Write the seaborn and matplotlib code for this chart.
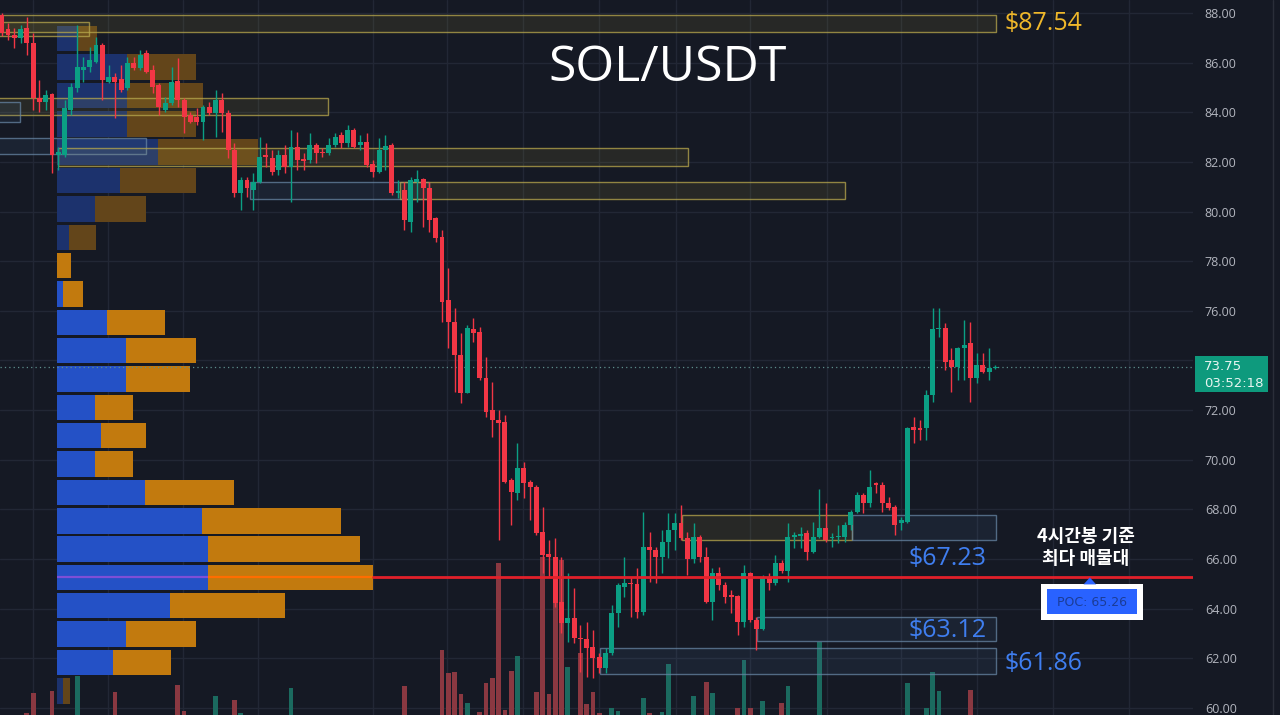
import matplotlib.pyplot as plt
import matplotlib.transforms as mtransforms
from matplotlib.patches import Rectangle, Polygon
from matplotlib.lines import Line2D
from matplotlib.ticker import FuncFormatter
import numpy as np
import pandas as pd
import seaborn as sns

################################# Données #################################

# bougies 4h SOL/USDT, de la plus ancienne a la plus recente
opens = [87.92, 87.34, 87.11, 86.98, 87.38, 86.80, 84.56, 84.43, 84.72, 82.28,
         82.28, 84.09, 84.97, 85.70, 85.84, 86.04, 86.71, 85.23, 85.43, 85.33,
         84.97, 85.97, 85.77, 86.38, 85.70, 85.10, 84.09, 84.36, 85.26, 84.49,
         83.89, 83.82, 83.62, 84.23, 83.96, 84.49, 83.96, 82.48, 80.74, 81.27,
         80.87, 81.20, 82.28, 82.15, 81.67, 82.28, 81.81, 82.61, 82.11, 82.08,
         82.68, 82.41, 82.35, 82.68, 83.09, 82.75, 83.29, 82.68, 82.82, 81.90,
         81.61, 82.48, 82.68, 80.74, 80.87, 79.59, 81.20, 81.31, 80.95, 79.74,
         78.97, 76.44, 75.55, 74.22, 72.69, 75.27, 75.15, 73.29, 72.00, 71.60,
         71.52, 69.18, 68.66, 69.67, 69.10, 68.90, 67.09, 66.20, 66.08, 64.27,
         63.42, 63.62, 62.82, 62.78, 62.46, 62.05, 61.61, 62.21, 63.82, 64.87,
         65.03, 64.99, 63.86, 66.49, 66.36, 66.08, 66.69, 67.17, 67.45, 66.85,
         66.00, 66.89, 66.08, 64.27, 65.44, 64.95, 64.55, 64.51, 63.46, 65.44,
         63.54, 63.18, 65.28, 65.04, 65.84, 65.52, 66.89, 66.93, 67.05, 66.28,
         66.89, 67.25, 66.85, 66.89, 66.89, 67.37, 67.89, 68.58, 68.26, 69.06,
         68.98, 68.26, 68.10, 67.45, 67.49, 71.32, 71.30, 71.28, 72.61, 75.27,
         75.31, 74.02, 73.74, 74.50, 74.71, 73.29, 73.82, 73.54, 73.70]
highs = [88.00, 87.59, 87.38, 87.52, 87.85, 87.18, 85.30, 84.90, 84.76, 82.61,
         84.49, 85.17, 87.52, 86.24, 86.64, 87.04, 86.78, 85.91, 85.57, 85.91,
         86.24, 86.24, 86.51, 86.51, 85.91, 85.17, 84.63, 85.84, 86.17, 84.56,
         84.02, 84.16, 84.29, 84.43, 84.90, 84.76, 84.09, 82.75, 81.40, 81.40,
         81.54, 83.02, 82.75, 82.48, 82.48, 82.68, 83.29, 83.22, 82.35, 83.15,
         82.75, 82.55, 82.95, 83.15, 83.22, 83.49, 83.36, 83.09, 83.15, 82.08,
         82.95, 83.09, 82.75, 81.27, 81.20, 81.40, 81.67, 81.35, 81.20, 79.79,
         79.26, 77.73, 76.11, 75.11, 75.43, 75.71, 75.35, 74.14, 73.13, 72.00,
         71.80, 69.26, 70.68, 69.91, 69.18, 68.98, 68.10, 66.77, 66.85, 66.08,
         65.44, 64.83, 63.34, 63.46, 63.14, 62.21, 62.42, 64.15, 65.03, 66.08,
         65.28, 65.64, 67.89, 67.09, 66.49, 67.17, 67.85, 67.85, 68.17, 67.09,
         67.45, 66.97, 66.49, 65.64, 65.68, 65.08, 64.75, 64.55, 65.76, 65.48,
         63.66, 65.36, 65.44, 66.16, 65.96, 67.45, 67.09, 67.29, 67.17, 67.49,
         68.82, 68.25, 67.05, 67.37, 67.49, 67.97, 68.70, 68.66, 69.59, 69.10,
         69.10, 68.50, 68.17, 67.69, 71.32, 71.72, 71.60, 72.81, 76.11, 76.11,
         75.51, 74.50, 74.54, 75.63, 75.55, 74.30, 74.30, 74.50, 73.80]
lows = [87.07, 86.91, 86.58, 86.78, 86.31, 84.09, 84.02, 84.09, 81.54, 81.67,
        82.21, 83.89, 84.83, 85.23, 85.64, 85.97, 84.49, 85.17, 83.76, 84.83,
        84.90, 85.70, 85.70, 85.57, 84.76, 83.89, 84.02, 84.29, 84.23, 83.15,
        83.56, 83.49, 82.88, 83.89, 83.02, 83.22, 82.15, 80.60, 80.06, 80.60,
        80.06, 81.14, 81.81, 81.47, 81.47, 81.54, 80.40, 81.67, 81.67, 81.94,
        81.94, 82.21, 82.28, 82.61, 82.55, 82.61, 82.55, 82.48, 81.81, 81.40,
        81.54, 81.67, 80.67, 80.53, 79.26, 79.19, 80.40, 79.39, 79.19, 78.79,
        75.56, 74.50, 72.73, 72.29, 72.69, 74.75, 73.21, 71.72, 70.92, 66.77,
        69.06, 67.37, 68.38, 68.46, 67.57, 66.97, 65.44, 65.28, 64.07, 63.01,
        62.66, 62.62, 61.45, 61.25, 61.21, 61.41, 61.41, 62.13, 63.26, 64.47,
        63.66, 63.62, 63.74, 65.08, 65.04, 65.44, 66.04, 66.36, 66.77, 65.36,
        65.84, 65.88, 64.23, 63.54, 64.75, 64.23, 63.82, 62.94, 63.26, 63.46,
        62.34, 63.14, 64.75, 64.95, 65.44, 65.08, 66.44, 66.44, 65.96, 66.24,
        66.85, 66.69, 66.48, 66.65, 66.69, 67.17, 67.85, 67.85, 68.10, 68.66,
        67.89, 67.97, 66.97, 67.17, 67.45, 70.68, 70.80, 70.80, 72.33, 74.95,
        73.62, 72.73, 73.21, 73.21, 72.33, 73.09, 73.50, 73.21, 73.65]
closes = [87.19, 87.11, 86.98, 87.34, 86.78, 84.56, 84.43, 84.70, 82.28, 82.41,
          84.16, 85.03, 85.84, 85.84, 86.11, 86.71, 85.30, 85.41, 85.23, 84.90,
          85.97, 85.77, 86.31, 85.64, 85.03, 84.23, 84.36, 85.23, 84.49, 83.82,
          83.62, 83.62, 84.23, 83.96, 84.49, 83.96, 82.48, 80.74, 81.27, 80.94,
          81.20, 82.21, 82.21, 81.61, 82.28, 81.81, 82.61, 82.08, 82.05, 82.68,
          82.35, 82.35, 82.68, 83.02, 82.75, 83.29, 82.61, 82.82, 81.88, 81.61,
          82.48, 82.64, 80.74, 80.84, 79.66, 81.27, 81.31, 80.95, 79.66, 78.93,
          76.36, 75.55, 74.22, 72.69, 75.31, 75.11, 73.29, 71.92, 71.60, 71.48,
          69.10, 68.70, 69.67, 69.06, 68.90, 67.05, 66.16, 66.08, 64.23, 63.42,
          63.62, 62.82, 62.78, 62.42, 62.01, 61.61, 62.21, 63.82, 64.95, 65.03,
          64.99, 63.86, 66.49, 66.36, 66.08, 66.69, 67.17, 67.45, 66.85, 66.00,
          66.89, 66.08, 64.27, 65.44, 64.95, 64.47, 64.47, 63.46, 65.44, 63.54,
          63.18, 65.24, 65.04, 65.84, 65.52, 66.89, 66.97, 67.00, 66.28, 66.89,
          67.25, 66.77, 66.89, 66.93, 67.37, 67.89, 68.58, 68.26, 68.90, 68.98,
          68.26, 68.06, 67.37, 67.57, 71.28, 71.20, 71.18, 72.61, 75.27, 75.31,
          73.94, 73.74, 74.50, 74.63, 73.29, 73.82, 73.54, 73.70, 73.75]
# volume visible au dessus du bas du graphe
volumes = [0, 0, 0, 0, 2, 22, 0, 0, 24, 0,
           0, 0, 39, 0, 0, 0, 0, 0, 23, 0,
           0, 0, 0, 0, 0, 0, 0, 0, 30, 4,
           0, 0, 0, 0, 19, 0, 0, 15, 2, 0,
           0, 0, 0, 0, 0, 0, 27, 0, 0, 0,
           0, 0, 0, 0, 0, 0, 0, 0, 0, 0,
           0, 0, 0, 0, 29, 0, 0, 0, 0, 0,
           65, 42, 43, 21, 12, 0, 3, 32, 37, 152,
           5, 44, 59, 0, 0, 23, 158, 21, 155, 155,
           48, 0, 62, 11, 23, 2, 0, 7, 4, 0,
           0, 0, 17, 2, 0, 3, 51, 0, 0, 0,
           19, 0, 33, 22, 0, 0, 0, 7, 55, 7,
           0, 14, 0, 0, 12, 29, 0, 0, 0, 0,
           73, 0, 0, 0, 0, 0, 0, 0, 0, 0,
           0, 0, 0, 0, 32, 0, 0, 7, 43, 24,
           0, 0, 0, 0, 25, 0, 0, 0, 0]

# profil de volume (volume par niveau de prix)
profile_price = [86.96, 85.82, 84.67, 83.53, 82.39, 81.25, 80.11, 78.96, 77.82, 76.68,
                 75.54, 74.40, 73.25, 72.11, 70.97, 69.83, 68.69, 67.54, 66.40, 65.26,
                 64.12, 62.98, 61.83, 60.69]
profile_buy = [20, 70, 70, 70, 101, 63, 38, 12, 0, 6, 50, 69, 69, 38, 44, 38, 88, 145, 151, 151,
               113, 69, 56, 6]
profile_sell = [20, 69, 76, 69, 100, 76, 51, 27, 14, 20, 58, 70, 64, 38, 45, 38, 89, 139, 152, 165,
                115, 70, 58, 7]
value_area = [False] * 8 + [True] * 15 + [False]
poc_price = 65.26

# zones (debut / fin en numero de bougie, haut / bas en prix)
zone_start = [-5, -5, -5, -5, -5, 9, 39.5, 63.3, 108.2, 135.2, 120.1, 95.1]
zone_end = [158.1, 13.9, 51.9, 2.9, 22.9, 109.1, 68, 134.1, 135.2, 158.1, 158.1, 158.1]
zone_top = [87.92, 87.64, 84.58, 84.41, 82.96, 82.56, 81.19, 81.19, 67.78, 67.78, 63.67, 62.42]
zone_bottom = [87.24, 87.07, 83.89, 83.61, 82.32, 81.84, 80.51, 80.51, 66.77, 66.77, 62.70, 61.37]
zone_kind = ['sell', 'sell', 'sell', 'buy', 'buy', 'sell', 'buy', 'sell', 'sell', 'buy', 'buy', 'buy']

level_labels = ['$87.54', '$67.23', '$63.12', '$61.86']

# lignes verticales de la grille (numero de bougie)
time_grid = [5, 16.9, 28.8, 40.7, 59, 70.8, 82.9, 95, 107.2, 119, 131.2, 143, 155.1, 167.1, 179.2]
countdown = '03:52:18'

################################# Style #################################

BG = '#151924'
GRID = '#222735'
RED = '#f23645'
GREEN = '#0b9f84'

sns.set_theme(style='dark', rc={'axes.facecolor': BG, 'figure.facecolor': BG,
                                'axes.edgecolor': BG, 'savefig.facecolor': BG})
plt.rcParams['font.family'] = ['Open Sans', 'Noto Sans CJK KR', 'DejaVu Sans']

fig = plt.figure(figsize=(12.8, 7.15), dpi=100)
rect = [0, 0, 1193 / 1280, 1]
ax_bg = fig.add_axes(rect)
ax_vol = ax_bg.twinx()
ax_prof = fig.add_axes(rect, sharey=ax_bg)
ax = fig.add_axes(rect, sharex=ax_bg, sharey=ax_bg)
ax_prof.patch.set_visible(False)
ax.patch.set_visible(False)

bars = np.arange(len(opens))
o = np.array(opens)
c = np.array(closes)
up = c >= o

################################# Graphe #################################

# volume en bas
vol_df = pd.DataFrame({'bar': bars, 'volume': volumes, 'side': np.where(up, 'up', 'down')})
sns.barplot(data=vol_df, x='bar', y='volume', hue='side', native_scale=True,
            palette={'up': '#1b6a5f', 'down': '#8a3841'}, width=0.75, dodge=False,
            saturation=1, legend=False, errorbar=None, linewidth=0, ax=ax_vol)

# profil de volume : total (orange) puis achat (bleu) par dessus
prof = pd.DataFrame({'price': profile_price, 'buy': profile_buy,
                     'total': np.add(profile_buy, profile_sell),
                     'zone': np.where(value_area, 'va', 'out')})
sns.barplot(data=prof, x='total', y='price', hue='zone', orient='h', native_scale=True,
            palette={'va': '#c27a0e', 'out': '#63451a'}, width=0.9, dodge=False,
            saturation=1, legend=False, errorbar=None, linewidth=0, ax=ax_prof)
sns.barplot(data=prof, x='buy', y='price', hue='zone', orient='h', native_scale=True,
            palette={'va': '#2451c6', 'out': '#1c326d'}, width=0.9, dodge=False,
            saturation=1, legend=False, errorbar=None, linewidth=0, ax=ax_prof)
poc_row = prof.loc[prof['price'] == poc_price].iloc[0]
ax_prof.hlines(poc_price, 0, poc_row['buy'], color='#7e4fd6', lw=1.6, zorder=5)
ax_prof.hlines(poc_price, poc_row['buy'], poc_row['total'], color='#ff6d00', lw=1.6, zorder=5)

# zones
for s, e, t, b, k in zip(zone_start, zone_end, zone_top, zone_bottom, zone_kind):
    if k == 'sell':
        fc, ec = (0.78, 0.70, 0.24, 0.10), (0.72, 0.66, 0.30, 0.75)
    else:
        fc, ec = (0.30, 0.45, 0.62, 0.12), (0.40, 0.52, 0.64, 0.75)
    ax.add_patch(Rectangle((s, b), e - s, t - b, facecolor=fc, edgecolor=ec, lw=1, zorder=2))

# bougies
cols = np.where(up, GREEN, RED)
body_lo = np.minimum(o, c)
body_h = np.maximum(np.abs(c - o), 0.05)
ax.vlines(bars, lows, highs, colors=cols, lw=1, zorder=3)
ax.bar(bars, body_h, bottom=body_lo, width=0.78, color=cols, linewidth=0, zorder=4)

# prix courant
last = closes[-1]
ax.axhline(last, color='#5e8f8c', lw=0.9, ls=(0, (1, 2.5)), zorder=1)

# limites
ax_bg.set_xlim(-0.27, 189.4)
ax_bg.set_ylim(59.72, 88.52)
ax_vol.set_ylim(0, 715)
ax_prof.set_xlim(-57, 1136)

# ligne POC rouge depuis le bout du profil
poc_x = ax_prof.transAxes.inverted().transform(
    ax_prof.transData.transform((poc_row['total'], poc_price)))[0]
ax.axhline(poc_price, xmin=poc_x, xmax=1, color='#e2202a', lw=2, zorder=6)

# grille et axe des prix (74.00 est cache sous l'etiquette du prix courant)
ax_bg.set_xticks(time_grid)
ax_bg.set_yticks(np.arange(60, 89, 2))
ax_bg.grid(True, color=GRID, lw=1)
ax_bg.tick_params(labelleft=False, labelbottom=False, length=0)
ax.grid(False)
ax.yaxis.tick_right()
ax.yaxis.set_major_formatter(FuncFormatter(lambda v, p: '' if abs(v - last) < 0.6 else f'{v:.2f}'))
ax.tick_params(axis='y', right=True, left=False, labelright=True, labelleft=False,
               length=0, pad=8.5, labelsize=9, labelcolor='#b2b5be')
ax.tick_params(axis='x', labelbottom=False, length=0)
ax_vol.set_axis_off()
ax_prof.set_axis_off()
for a in (ax_bg, ax):
    for sp in a.spines.values():
        sp.set_visible(False)
ax.set_xlabel('')
ax.set_ylabel('')

# étiquettes des niveaux
ax.text(159.5, 87.58, level_labels[0], color='#f0b82a', fontsize=18, ha='left', va='center')
ax.text(150.3, 66.04, level_labels[1], color='#3f7ef0', fontsize=18, ha='center', va='center')
ax.text(150.3, 63.14, level_labels[2], color='#3f7ef0', fontsize=18, ha='center', va='center')
ax.text(159.5, 61.81, level_labels[3], color='#3f7ef0', fontsize=18, ha='left', va='center')

# annotation POC
ax.text(172.4, 66.47, '4시간봉 기준\n최다 매물대', color='white', fontsize=13, fontweight='bold',
        ha='center', va='center', linespacing=1.15, family=['Noto Sans CJK KR', 'DejaVu Sans'],
        zorder=7)
ax.add_patch(Rectangle((165.2, 63.55), 16.2, 1.45, facecolor='white', edgecolor='none', zorder=7))
ax.add_patch(Rectangle((166.2, 63.78), 14.3, 1.01, facecolor='#2962ff', edgecolor='none', zorder=8))
ax.add_patch(Polygon([(172.0, 64.98), (174.0, 64.98), (173.0, 65.26)], closed=True,
                     facecolor='#2962ff', edgecolor='none', zorder=8))
ax.text(173.35, 64.27, f'POC: {poc_price:.2f}', color='#1b3c96', fontsize=9,
        ha='center', va='center', family='DejaVu Sans', zorder=9)

# titre
fig.text(668 / 1280, 1 - 68 / 715, 'SOL/USDT', color='white', fontsize=36,
         ha='center', va='center')

# étiquette du prix courant
tr = mtransforms.blended_transform_factory(ax.transAxes, ax.transData)
ax.add_patch(Rectangle((1.0017, last - 1.02), 0.0612, 1.45, transform=tr, clip_on=False,
                       facecolor='#0e9a7d', edgecolor='none', zorder=10))
ax.text(1.0092, last, f'{last:.2f}', transform=tr, color='#e8f5f1', fontsize=9.5,
        ha='left', va='center', zorder=11, family='DejaVu Sans')
ax.text(1.0092, last - 0.66, countdown, transform=tr, color='#e8f5f1', fontsize=9.5,
        ha='left', va='center', zorder=11, family='DejaVu Sans')

fig.add_artist(Line2D([1273 / 1280] * 2, [0, 1], transform=fig.transFigure, color='#2a2e39', lw=1))

plt.savefig('out.png', dpi=100, facecolor=BG)
